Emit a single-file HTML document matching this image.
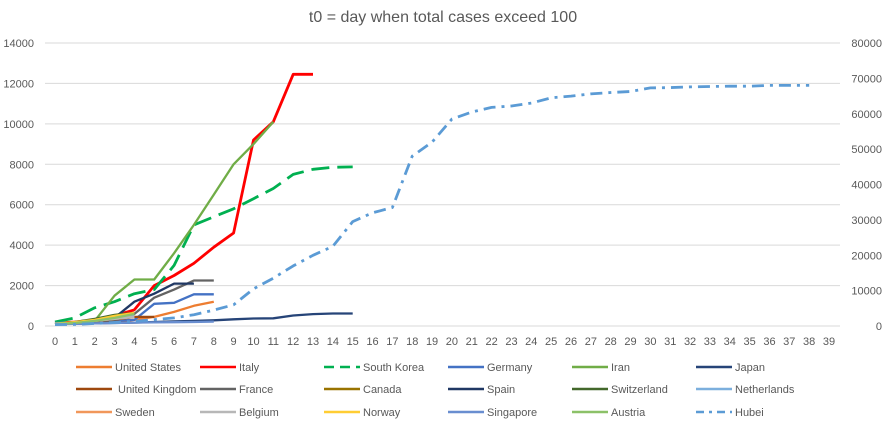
<!DOCTYPE html>
<html><head><meta charset="utf-8"><style>
body{margin:0;background:#fff;}
svg{display:block;font-family:"Liberation Sans",Calibri,sans-serif;}
</style></head><body>
<svg id="chart" width="887" height="422">
<text x="443" y="22" text-anchor="middle" font-size="16" fill="#595959">t0 = day when total cases exceed 100</text>
<g id="grid"></g><g id="series"></g><g id="legend"></g>
</svg>
<script>
const days=[];for(let i=0;i<=39;i++)days.push(i);
const leftTicks=[0,2000,4000,6000,8000,10000,12000,14000];
const rightTicks=[0,10000,20000,30000,40000,50000,60000,70000,80000];
const usVals=[100,120,150,200,300,450,700,1000,1200];
const italyVals=[150,200,300,500,800,2000,2500,3100,3900,4600,9200,10100,12450,12450];
const koreaVals=[200,400,900,1200,1600,1800,3000,5000,5400,5800,6300,6800,7500,7750,7850,7870];
const germanyVals=[150,180,220,260,300,1100,1150,1570,1570];
const iranVals=[100,200,250,1500,2300,2300,3600,5000,6500,8000,9000,10100];
const japanVals=[100,110,130,150,170,200,230,250,280,330,370,380,520,590,620,620];
const ukVals=[100,150,200,300,450,450];
const franceVals=[100,130,200,300,600,1400,1800,2250,2250];
const canadaVals=[100,150,250,350,500];
const spainVals=[120,170,250,400,1200,1600,2100,2100];
const switzVals=[100,200,350,550,650];
const nethVals=[130,180,260,380,500];
const swedenVals=[100,150,250,350,450];
const belgiumVals=[100,150,250,350,450];
const norwayVals=[110,190,300,500,650];
const singVals=[100,110,130,150,170,180,190,200,220];
const austriaVals=[100,150,250,400,600];
const hubeiVals=[400,450,700,1000,1300,1800,2300,3200,4500,6000,10500,13500,17000,20000,22500,29500,32000,33500,48000,52000,58500,60500,61800,62200,63000,64500,65000,65600,66000,66300,67300,67400,67600,67700,67800,67800,68000,68000,68000];
const seriesNames=["United States","Italy","South Korea","Germany","Iran","Japan","United Kingdom","France","Canada","Spain","Switzerland","Netherlands","Sweden","Belgium","Norway","Singapore","Austria","Hubei"];
const seriesData=[usVals,italyVals,koreaVals,germanyVals,iranVals,japanVals,ukVals,franceVals,canadaVals,spainVals,switzVals,nethVals,swedenVals,belgiumVals,norwayVals,singVals,austriaVals,hubeiVals];
const colors=["#ED7D31","#FF0000","#00B050","#4472C4","#70AD47","#264478","#9E480E","#636363","#997300","#203864","#43682B","#7CAFDD","#F1975A","#B7B7B7","#FFCD33","#698ED0","#8CC168","#5B9BD5"];
const dashes=["","","18,8","","","","","","","","","","","","","","","12,6,3,6"];
const NS="http://www.w3.org/2000/svg";
const X0=55,X1=829,Y0=326,Y1=43;
const x=d=>X0+(X1-X0)*d/39;
const yL=v=>Y0-(Y0-Y1)*v/14000;
const yR=v=>Y0-(Y0-Y1)*v/80000;
function mk(t,a,p){const e=document.createElementNS(NS,t);for(const k in a)e.setAttribute(k,a[k]);p.appendChild(e);return e;}
const grid=document.getElementById('grid');
leftTicks.forEach((v,i)=>{
 const gl=mk('line',{x1:45,x2:840,y1:yL(v),y2:yL(v),stroke:'#d9d9d9','stroke-width':1},grid);
 
 
 const t=mk('text',{x:34,y:yL(v)+4,'text-anchor':'end','font-size':11,fill:'#595959'},grid);t.textContent=v;
 
 
});
rightTicks.forEach(v=>{
 const t=mk('text',{x:882,y:yR(v)+4,'text-anchor':'end','font-size':11,fill:'#595959'},grid);t.textContent=v;
 
 
});
days.forEach(d=>{
 const t=mk('text',{x:x(d),y:345,'text-anchor':'middle','font-size':11,fill:'#595959'},grid);t.textContent=d;
 
 
});
const sg=document.getElementById('series');
seriesData.forEach((vals,i)=>{
 const isR=i===17;
 const pts=vals.map((v,d)=>x(d).toFixed(1)+','+(isR?yR(v):yL(v)).toFixed(1)).join(' ');
 const a={points:pts,fill:'none',stroke:colors[i],'stroke-width':i===1||i===2||i===17?2.8:2.3,'stroke-linejoin':'round'};
 if(dashes[i])a['stroke-dasharray']=dashes[i];
 const p=mk('polyline',a,sg);
 
 
});
const lg=document.getElementById('legend');
const colX=[76,200,324,448,572,696],rowY=[367,389,412];
seriesNames.forEach((n,i)=>{
 const cx=colX[i%6],cy=rowY[Math.floor(i/6)];
 const a={x1:cx,x2:cx+36,y1:cy,y2:cy,stroke:colors[i],'stroke-width':2.5};
 if(dashes[i])a['stroke-dasharray']=i===2?'10,6':'8,5,3,5';
 const l=mk('line',a,lg);
 
 
 const t=mk('text',{x:cx+39+(i===6?3:0),y:cy+4,'font-size':11,fill:'#595959'},lg);t.textContent=n;
 
 
});
</script>
</body></html>
